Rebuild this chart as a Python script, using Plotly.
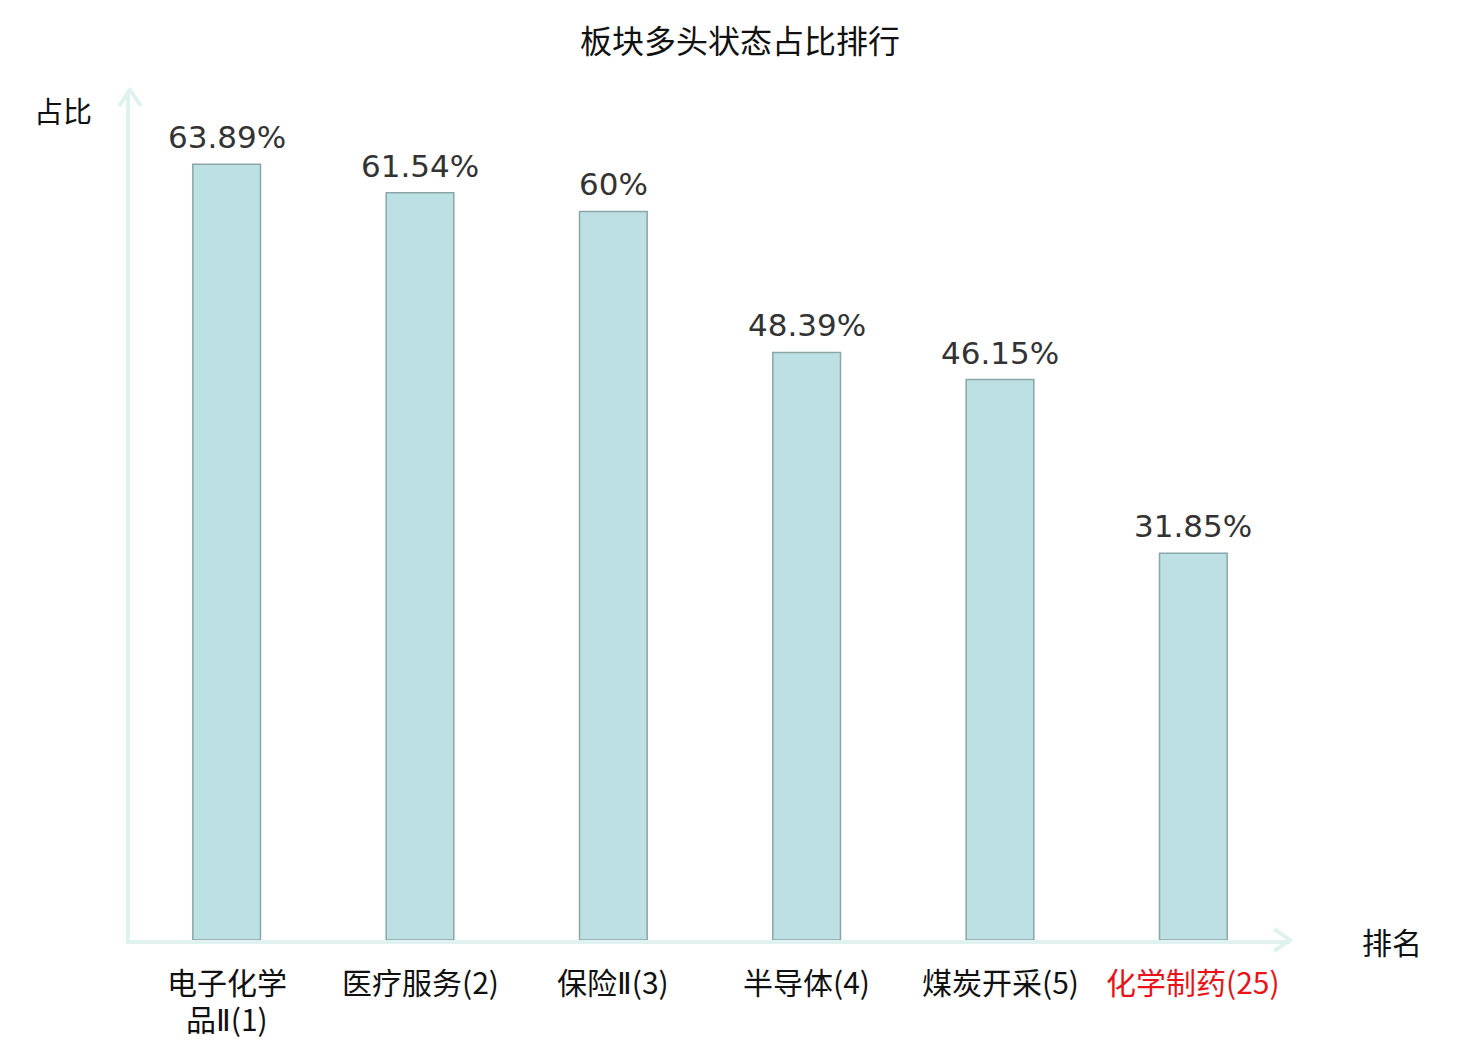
import plotly.graph_objects as go

# Sector names, ranks and bullish share (%)
sectors = ["电子化学<br>品Ⅱ(1)", "医疗服务(2)", "保险Ⅱ(3)", "半导体(4)", "煤炭开采(5)", "化学制药(25)"]
shares = [63.89, 61.54, 60, 48.39, 46.15, 31.85]
share_labels = ["63.89%", "61.54%", "60%", "48.39%", "46.15%", "31.85%"]
highlight = "化学制药(25)"

xs = list(range(len(sectors)))
axis_color = "#dff2f0"

fig = go.Figure()
fig.add_trace(go.Bar(
    x=xs,
    y=shares,
    width=0.35,
    marker=dict(color="#bce0e3", line=dict(color="#8aa6a8", width=1.5)),
    hoverinfo="skip",
))

# value labels above bars
for x, y, lab in zip(xs, shares, share_labels):
    fig.add_annotation(x=x, y=y, text=lab, showarrow=False, yanchor="bottom", yshift=7,
                       font=dict(family="DejaVu Sans", size=31, color="#333333"))

# category labels under the axis, one annotation per line (tight line spacing)
for x, s in zip(xs, sectors):
    color = "#e8141a" if s == highlight else "#111111"
    for i, line in enumerate(s.split("<br>")):
        line = line.replace("Ⅱ", '<span style="font-family:DejaVu Sans">Ⅱ</span>')
        fig.add_annotation(x=x, y=0, yref="paper", text=line, showarrow=False,
                           xanchor="center", yanchor="middle", yshift=-41 - 37 * i,
                           borderpad=0,
                           font=dict(family="Noto Sans CJK SC", size=30, color=color))

# page body has an 8px margin, so offsets are shifted by that
fig.update_layout(
    width=1480, height=1040,
    margin=dict(l=122, r=198, t=82, b=108),
    plot_bgcolor="white", paper_bgcolor="white",
    showlegend=False,
    font=dict(family="Noto Sans CJK SC", color="#111111"),
    title=dict(text="板块多头状态占比排行", x=732 / 1480, xref="container", xanchor="center",
               y=1 - 34 / 1040, yanchor="middle",
               font=dict(family="Noto Sans CJK SC", size=32, color="#111111")),
    xaxis=dict(
        range=[-0.5, len(sectors) - 0.5], automargin=False,
        showticklabels=False, ticks="",
        showline=True, linecolor=axis_color, linewidth=4,
        showgrid=False, zeroline=False, fixedrange=True,
    ),
    yaxis=dict(
        range=[0, 70], showticklabels=False, ticks="", automargin=False,
        showline=True, linecolor=axis_color, linewidth=4,
        showgrid=False, zeroline=False, fixedrange=True,
    ),
)

# arrowheads at the ends of the axes
fig.add_shape(type="path", xref="paper", yref="paper", xsizemode="pixel", ysizemode="pixel",
              xanchor=1, yanchor=0, path="M -16,11 L 0,0 L -16,-11",
              line=dict(color=axis_color, width=4))
fig.add_shape(type="path", xref="paper", yref="paper", xsizemode="pixel", ysizemode="pixel",
              xanchor=0, yanchor=1, path="M -11,-16 L 0,0 L 11,-16",
              line=dict(color=axis_color, width=4))

fig.add_annotation(text="占比", xref="paper", yref="paper", x=0, y=1, xshift=-67, yshift=-20,
                   xanchor="center", yanchor="middle",
                   showarrow=False, font=dict(family="Noto Sans CJK SC", size=29, color="#111111"))
fig.add_annotation(text="排名", xref="paper", yref="paper", x=1, y=0, xshift=102, yshift=-1,
                   xanchor="center", yanchor="middle",
                   showarrow=False, font=dict(family="Noto Sans CJK SC", size=30, color="#111111"))

fig.write_html("out.html")
